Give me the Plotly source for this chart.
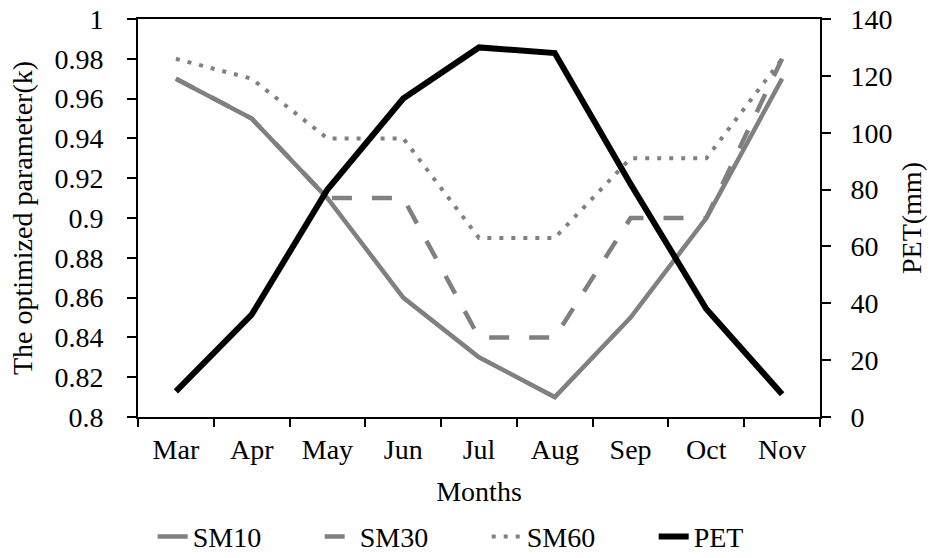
import plotly.graph_objects as go

months = ["Mar", "Apr", "May", "Jun", "Jul", "Aug", "Sep", "Oct", "Nov"]
sm10 = [0.97, 0.95, 0.91, 0.86, 0.83, 0.81, 0.85, 0.90, 0.97]
sm30 = [0.97, 0.95, 0.91, 0.91, 0.84, 0.84, 0.90, 0.90, 0.98]
sm60 = [0.98, 0.97, 0.94, 0.94, 0.89, 0.89, 0.93, 0.93, 0.98]
pet = [9, 36, 80, 112, 130, 128, 82, 38, 8]

k_ticks = [0.8, 0.82, 0.84, 0.86, 0.88, 0.9, 0.92, 0.94, 0.96, 0.98, 1.0]
k_ticktext = ["0.8", "0.82", "0.84", "0.86", "0.88", "0.9", "0.92", "0.94", "0.96", "0.98", "1"]
pet_ticks = [0, 20, 40, 60, 80, 100, 120, 140]

GRAY = "#808080"
FONT = "Liberation Serif"
FS = 28

fig = go.Figure()
fig.add_trace(go.Scatter(x=months, y=sm10, name="SM10", mode="lines",
                         line=dict(color=GRAY, width=4.5)))
fig.add_trace(go.Scatter(x=months, y=sm30, name="SM30", mode="lines",
                         line=dict(color=GRAY, width=4.5, dash="20px,20px")))
fig.add_trace(go.Scatter(x=months, y=sm60, name="SM60", mode="lines",
                         line=dict(color=GRAY, width=4, dash="4px,8px")))
fig.add_trace(go.Scatter(x=months, y=pet, name="PET", mode="lines",
                         line=dict(color="black", width=6), yaxis="y2"))

fig.update_layout(
    width=931, height=558,
    paper_bgcolor="white", plot_bgcolor="white",
    margin=dict(l=138, r=111, t=19, b=141, autoexpand=False),
    font=dict(family=FONT, size=FS, color="black"),
    showlegend=True,
    legend=dict(orientation="h", x=0.164, xanchor="left", xref="container",
                y=0.038, yanchor="middle", yref="container",
                font=dict(size=FS, family=FONT),
                entrywidth=122, entrywidthmode="pixels",
                itemwidth=30, traceorder="normal"),
    xaxis=dict(
        type="category", range=[-0.5, 8.5], automargin=False,
        showgrid=False, zeroline=False,
        showline=True, linecolor="black", linewidth=2, mirror=True,
        ticks="outside", ticklen=8, tickwidth=1.5, tickcolor="black",
        tickson="boundaries", tickfont=dict(size=FS), ticklabelstandoff=6,
        title=dict(text="Months", font=dict(size=FS), standoff=18),
    ),
    yaxis=dict(
        range=[0.8, 1.0], tickvals=k_ticks, ticktext=k_ticktext, automargin=False,
        showgrid=False, zeroline=False,
        showline=True, linecolor="black", linewidth=2,
        ticks="outside", ticklen=9, tickwidth=1.5, tickcolor="black",
        tickfont=dict(size=FS), ticklabelstandoff=18,
        title=dict(text="The optimized parameter(k)", font=dict(size=FS), standoff=14),
    ),
    yaxis2=dict(
        overlaying="y", side="right",
        range=[0, 140], tickvals=pet_ticks, automargin=False,
        showgrid=False, zeroline=False,
        showline=True, linecolor="black", linewidth=2,
        ticks="outside", ticklen=9, tickwidth=1.5, tickcolor="black",
        tickfont=dict(size=FS), ticklabelstandoff=14,
        title=dict(text="PET(mm)", font=dict(size=FS), standoff=10),
    ),
)

fig.write_html("out.html", config={"displayModeBar": False},
               post_script="document.body.style.margin='0';document.body.style.padding='0';")
